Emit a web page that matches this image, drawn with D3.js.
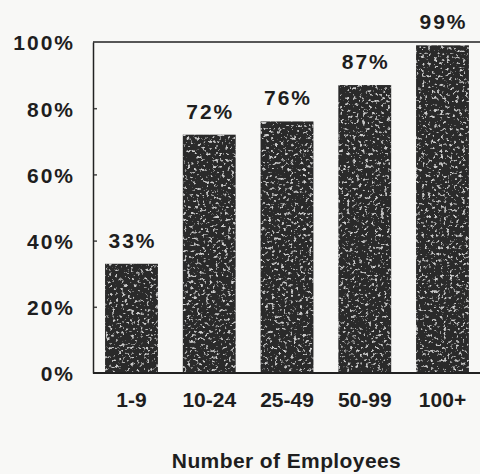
<!DOCTYPE html>
<html>
<head>
<meta charset="utf-8">
<script src="https://cdn.jsdelivr.net/npm/d3@7"></script>
<style>
  html, body { margin: 0; padding: 0; background: #f8f8f6; }
  svg { display: block; }
  text { font-family: "Liberation Sans", Arial, Helvetica, sans-serif; fill: #1e1e1e; }
</style>
</head>
<body>
<svg id="chart" width="480" height="474"></svg>
<script>
// Share of firms by company size
const categories = ["1-9", "10-24", "25-49", "50-99", "100+"];
const values = [33, 72, 76, 87, 99];
const yTicks = [0, 20, 40, 60, 80, 100];
const xTitle = "Number of Employees";

const svg = d3.select("#chart");
const W = 480, H = 474;
const plot = { left: 93, right: 481, top: 42, bottom: 373 };
const FONT = "'Liberation Sans', Arial, Helvetica, sans-serif";

const x = d3.scaleBand()
  .domain(categories)
  .range([plot.left, plot.right])
  .paddingInner(0.32)
  .paddingOuter(0.155);

const y = d3.scaleLinear()
  .domain([0, 100])
  .range([plot.bottom, plot.top]);

// Mottled dark fill for the bars
const defs = svg.append("defs");
const f = defs.append("filter").attr("id", "grain")
  .attr("x", 0).attr("y", 0).attr("width", 1).attr("height", 1);
f.append("feTurbulence").attr("type", "fractalNoise")
  .attr("baseFrequency", 0.32).attr("numOctaves", 3).attr("seed", 11).attr("result", "noise");
f.append("feColorMatrix").attr("in", "noise").attr("type", "matrix")
  .attr("values", "0 0 0 0 0.62  0 0 0 0 0.62  0 0 0 0 0.62  6 0 0 0 -3.55")
  .attr("result", "specks");
f.append("feComposite").attr("in", "specks").attr("in2", "SourceGraphic")
  .attr("operator", "in").attr("result", "specksIn");
const merge = f.append("feMerge");
merge.append("feMergeNode").attr("in", "SourceGraphic");
merge.append("feMergeNode").attr("in", "specksIn");

// Bars
svg.append("g")
  .selectAll("rect")
  .data(values)
  .join("rect")
  .attr("x", (d, i) => x(categories[i]))
  .attr("y", d => y(d))
  .attr("width", x.bandwidth())
  .attr("height", d => y(0) - y(d))
  .attr("fill", "#2a2a2a")
  .attr("filter", "url(#grain)");

// Frame: top and bottom edges
svg.append("line")
  .attr("x1", plot.left).attr("x2", W)
  .attr("y1", y(100)).attr("y2", y(100))
  .attr("stroke", "#222").attr("stroke-width", 1.5);
svg.append("line")
  .attr("x1", plot.left).attr("x2", W)
  .attr("y1", y(0)).attr("y2", y(0))
  .attr("stroke", "#222").attr("stroke-width", 2);

// Y axis with short inward ticks
const yAxis = d3.axisLeft(y)
  .tickValues(yTicks)
  .tickFormat(d => d + "%")
  .tickSize(0)
  .tickPadding(18);
const gy = svg.append("g")
  .attr("transform", `translate(${plot.left},0)`)
  .call(yAxis);
gy.select(".domain").attr("stroke", "#222").attr("stroke-width", 1.5);
gy.selectAll(".tick text")
  .attr("font-size", 21)
  .attr("font-weight", "bold")
  .attr("letter-spacing", "2px")
  .attr("dy", "0.38em")
  .style("font-family", FONT)
  .attr("fill", "#1e1e1e");
gy.selectAll(".tick")
  .filter(d => d > 0 && d < 100)
  .append("line")
  .attr("x1", 1).attr("x2", 4)
  .attr("stroke", "#444").attr("stroke-width", 1.5);

// X axis category labels
const xAxis = d3.axisBottom(x).tickSize(0).tickPadding(19);
const gx = svg.append("g")
  .attr("transform", `translate(0,${plot.bottom})`)
  .call(xAxis);
gx.select(".domain").remove();
gx.selectAll(".tick text")
  .attr("font-size", 21)
  .attr("font-weight", "bold")
  .style("font-family", FONT)
  .attr("fill", "#1e1e1e");

// Value labels above bars
svg.append("g")
  .selectAll("text")
  .data(values)
  .join("text")
  .attr("x", (d, i) => x(categories[i]) + x.bandwidth() / 2 + 1)
  .attr("y", d => y(d) - 16)
  .attr("text-anchor", "middle")
  .attr("font-size", 21)
  .attr("font-weight", "bold")
  .attr("letter-spacing", "2px")
  .text(d => d + "%");

// Axis title
svg.append("text")
  .attr("x", (plot.left + W) / 2)
  .attr("y", 468)
  .attr("text-anchor", "middle")
  .attr("font-size", 21)
  .attr("font-weight", "bold")
  .attr("letter-spacing", "0.4px")
  .text(xTitle);
</script>
</body>
</html>
